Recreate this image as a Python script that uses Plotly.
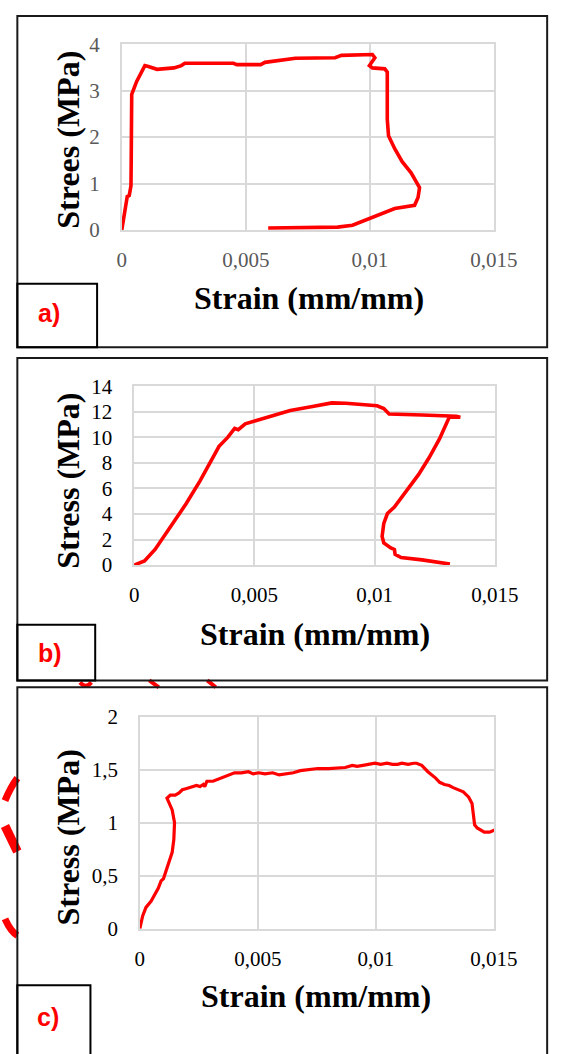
import plotly.graph_objects as go

W, H = 574, 1054

# ---------------- data ----------------
strain_a = [0, 0.00015, 0.00022, 0.00030, 0.00034, 0.00037, 0.00038, 0.00039, 0.00040, 0.00060,
            0.00093, 0.00107, 0.00142, 0.0021, 0.0024, 0.00254, 0.0045, 0.00464, 0.0056, 0.00577,
            0.0065, 0.0070, 0.0086, 0.00885, 0.0101, 0.0102, 0.00998, 0.0101, 0.0106, 0.0107,
            0.0107, 0.01075, 0.0110, 0.0113, 0.01166, 0.01187, 0.0120, 0.01194, 0.0118, 0.0110,
            0.01047, 0.00998, 0.0093, 0.0087, 0.0059]
stress_a = [0, 0.55, 0.72, 0.74, 0.90, 0.95, 1.5, 2.4, 2.92, 3.2,
            3.54, 3.52, 3.46, 3.49, 3.54, 3.59, 3.59, 3.56, 3.56, 3.61,
            3.66, 3.70, 3.71, 3.76, 3.78, 3.71, 3.54, 3.49, 3.47, 3.40,
            2.38, 2.03, 1.75, 1.47, 1.23, 1.05, 0.91, 0.70, 0.53, 0.46,
            0.35, 0.25, 0.10, 0.06, 0.04]

strain_b = [0, 0.00043, 0.00087, 0.00144, 0.00216, 0.00274, 0.00317, 0.00353, 0.00389, 0.00418,
            0.00433, 0.00462, 0.00505, 0.00563, 0.00649, 0.00736, 0.00822, 0.0088, 0.00923, 0.00966,
            0.0101, 0.01038, 0.01053, 0.0106, 0.01197, 0.01313, 0.0134, 0.01356, 0.0131, 0.0127,
            0.01226, 0.01183, 0.01125, 0.01082, 0.01053, 0.01038, 0.01031, 0.01038, 0.01067, 0.01082,
            0.01085, 0.0111, 0.01197, 0.01313]
stress_b = [0, 0.33, 1.23, 2.76, 4.8, 6.6, 8.1, 9.3, 10.0, 10.7,
            10.6, 11.06, 11.3, 11.6, 12.1, 12.4, 12.7, 12.67, 12.6, 12.6,
            12.47, 12.26, 11.96, 11.83, 11.75, 11.7, 11.65, 11.57, 11.57, 9.9,
            8.4, 7.1, 5.57, 4.55, 4.04, 3.27, 2.25, 1.74, 1.35, 1.23,
            0.84, 0.59, 0.41, 0.08]

strain_c = [0, 0.00012, 0.00026, 0.00048, 0.00078, 0.00090, 0.00100, 0.00122, 0.00137, 0.00144,
            0.00147, 0.00137, 0.00122, 0.00115, 0.00129, 0.00150, 0.00166, 0.00180, 0.00195, 0.00215,
            0.0024, 0.00255, 0.00269, 0.00275, 0.00284, 0.0031, 0.00342, 0.0037, 0.00401, 0.0043,
            0.0046, 0.0048, 0.00504, 0.0053, 0.00563, 0.0059, 0.00614, 0.0065, 0.0068, 0.0072,
            0.00754, 0.0080, 0.00842, 0.0087, 0.0090, 0.0092, 0.00945, 0.0097, 0.00996, 0.0102,
            0.01047, 0.0107, 0.01092, 0.0111, 0.01136, 0.0116, 0.01172, 0.01194, 0.0122, 0.01253,
            0.0127, 0.0129, 0.0131, 0.01327, 0.0135, 0.0137, 0.01393, 0.01407, 0.01412, 0.01418,
            0.01429, 0.01459, 0.01481, 0.01503]
stress_c = [0, 0.12, 0.20, 0.26, 0.38, 0.45, 0.47, 0.63, 0.72, 0.84,
            1.00, 1.12, 1.19, 1.23, 1.26, 1.26, 1.28, 1.31, 1.32, 1.33,
            1.35, 1.34, 1.36, 1.34, 1.39, 1.39, 1.42, 1.44, 1.47, 1.47,
            1.48, 1.46, 1.47, 1.46, 1.47, 1.45, 1.455, 1.47, 1.49, 1.50,
            1.51, 1.51, 1.52, 1.52, 1.54, 1.53, 1.54, 1.55, 1.56, 1.55,
            1.56, 1.55, 1.55, 1.56, 1.55, 1.56, 1.56, 1.54, 1.48, 1.42,
            1.38, 1.36, 1.35, 1.33, 1.31, 1.29, 1.24, 1.18, 1.09, 0.98,
            0.95, 0.91, 0.91, 0.93]

x_tickvals = [0, 0.005, 0.01, 0.015]
x_ticktext = ["0", "0,005", "0,01", "0,015"]
ya_tickvals = [0, 1, 2, 3, 4]
ya_ticktext = ["0", "1", "2", "3", "4"]
yb_tickvals = [0, 2, 4, 6, 8, 10, 12, 14]
yb_ticktext = ["0", "2", "4", "6", "8", "10", "12", "14"]
yc_tickvals = [0, 0.5, 1, 1.5, 2]
yc_ticktext = ["0", "0,5", "1", "1,5", "2"]

panel_labels = ["a)", "b)", "c)"]
x_title = "Strain (mm/mm)"
y_titles = ["Strees (MPa)", "Stress (MPa)", "Stress (MPa)"]

# ---------------- helpers ----------------
def px(x):
    return x / W

def py(y):
    return 1 - y / H

RED = "#ff0000"
GRID = "#d9d9d9"
SERIF = "Liberation Serif, Times New Roman, serif"

fig = go.Figure()
fig.add_trace(go.Scatter(x=strain_a, y=stress_a, mode="lines", xaxis="x", yaxis="y",
                         line=dict(color=RED, width=3.6), showlegend=False))
fig.add_trace(go.Scatter(x=strain_b, y=stress_b, mode="lines", xaxis="x2", yaxis="y2",
                         line=dict(color=RED, width=3.6), showlegend=False))
fig.add_trace(go.Scatter(x=strain_c, y=stress_c, mode="lines", xaxis="x3", yaxis="y3",
                         line=dict(color=RED, width=3.2), showlegend=False))

def xax(domain, anchor, color):
    return dict(domain=domain, anchor=anchor, range=[0, 0.015], tickvals=x_tickvals,
                ticktext=x_ticktext, showgrid=True, gridcolor=GRID, gridwidth=1.5,
                zeroline=False, showline=True, linecolor=GRID, linewidth=1.5, mirror=True,
                ticks="", ticklabelstandoff=10,
                tickfont=dict(family=SERIF, size=21, color=color), fixedrange=True)

def yax(domain, anchor, rng, tv, tt, color):
    return dict(domain=domain, anchor=anchor, range=rng, tickvals=tv, ticktext=tt,
                showgrid=True, gridcolor=GRID, gridwidth=1.5, zeroline=False,
                showline=True, linecolor=GRID, linewidth=1.5, mirror=True,
                ticks="", ticklabelstandoff=16,
                tickfont=dict(family=SERIF, size=21, color=color), fixedrange=True)

fig.update_layout(
    width=W, height=H, margin=dict(l=0, r=0, t=0, b=0),
    paper_bgcolor="white", plot_bgcolor="white",
    xaxis=xax([px(123), px(515)], "y", "#595959"),
    yaxis=yax([py(223), py(33)], "x", [0, 4], ya_tickvals, ya_ticktext, "#595959"),
    xaxis2=xax([px(136), px(516)], "y2", "#000000"),
    yaxis2=yax([py(566), py(383)], "x2", [0, 14], yb_tickvals, yb_ticktext, "#000000"),
    xaxis3=xax([px(142), px(515)], "y3", "#000000"),
    yaxis3=yax([py(938), py(721)], "x3", [0, 2], yc_tickvals, yc_ticktext, "#000000"),
)

shapes = []
# stray red marks visible in the source picture
for path, w in [("M 0,807 Q 6,793 13,784", 7), ("M 0,833 L 13,859", 9), ("M 0,928 Q 6,941 13,945", 7),
                ("M 79,686 Q 85,693 91,686", 4), ("M 152,684 L 162,691", 4), ("M 213,684 L 222,691", 4)]:
    pts = path.replace("M", "").replace("Q", "").replace("L", "").split()
    newp = []
    for tok in path.split():
        if "," in tok:
            a, b = tok.split(",")
            newp.append("%f,%f" % (px(float(a)), py(float(b))))
        else:
            newp.append(tok)
    shapes.append(dict(type="path", xref="paper", yref="paper", path=" ".join(newp),
                       line=dict(color=RED, width=w), layer="below"))
# outer panel borders
for (x0, y0, x1, y1) in [(13, 4, 571, 343), (13, 354, 571, 684), (13, 691, 571, 1070)]:
    shapes.append(dict(type="rect", xref="paper", yref="paper",
                       x0=px(x0), x1=px(x1), y0=py(y1), y1=py(y0),
                       line=dict(color="#1a1a1a", width=2), fillcolor="rgba(0,0,0,0)"))
# label boxes
for (x0, y0, x1, y1) in [(13, 278, 97, 343), (13, 627, 95, 684), (13, 996, 90, 1070)]:
    shapes.append(dict(type="rect", xref="paper", yref="paper",
                       x0=px(x0), x1=px(x1), y0=py(y1), y1=py(y0),
                       line=dict(color="#000000", width=2), fillcolor="rgba(0,0,0,0)"))
fig.update_layout(shapes=shapes)

ann = []
for lab, (cx, cy) in zip(panel_labels, [(46, 308), (47, 656), (45, 1028)]):
    ann.append(dict(text=lab, x=px(cx), y=py(cy), xref="paper", yref="paper",
                    showarrow=False, xanchor="center", yanchor="middle",
                    font=dict(family="Liberation Sans, Arial, sans-serif", size=25,
                              color=RED, weight="bold")))
for (cx, cy) in [(320, 293), (326, 636), (328, 1007)]:
    ann.append(dict(text="<b>%s</b>" % x_title, x=px(cx), y=py(cy), xref="paper", yref="paper",
                    showarrow=False, xanchor="center", yanchor="middle",
                    font=dict(family=SERIF, size=32, color="#000000")))
for t, (cx, cy) in zip(y_titles, [(66, 131), (66, 480), (66, 845)]):
    ann.append(dict(text="<b>%s</b>" % t, x=px(cx), y=py(cy), xref="paper", yref="paper",
                    showarrow=False, xanchor="center", yanchor="middle", textangle=-90,
                    font=dict(family=SERIF, size=32, color="#000000")))
fig.update_layout(annotations=ann)

fig.write_html("out.html")
